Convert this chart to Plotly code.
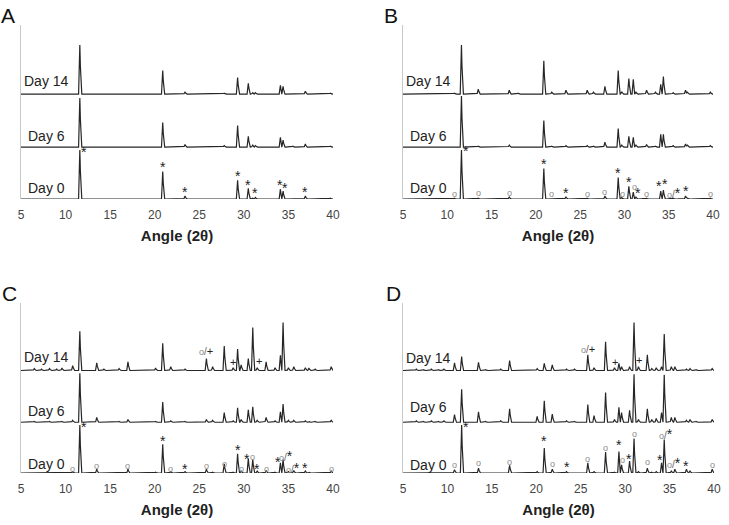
import numpy as np
import plotly.graph_objects as go

# ---------------- data ----------------
days = ["Day 0", "Day 6", "Day 14"]
day_offsets = [0, 106, 214]
x_ticks = [5, 10, 15, 20, 25, 30, 35, 40]

# Panel A
A_angles = [11.6, 20.9, 23.4, 27.8, 29.3, 30.5, 31.0, 31.3, 34.1, 34.4, 35.5, 36.9, 39.7]
A_day0 = [100, 56, 6, 1, 38, 22, 2, 3, 20, 16, 1, 6, 2]
A_day6 = [100, 50, 5, 3, 44, 22, 4, 3, 20, 14, 2, 6, 2]
A_day14 = [100, 48, 4, 2, 34, 22, 3, 3, 18, 16, 1, 6, 2]

# Panel B
B_angles = [10.8, 11.6, 13.5, 17.0, 18.0, 20.9, 21.8, 23.4, 25.8, 26.5, 27.8, 29.3, 29.7,
            30.5, 31.0, 31.3, 32.5, 33.5, 34.1, 34.4, 35.5, 36.9, 37.1, 39.7]
B_day0 = [2, 100, 2, 4, 1, 62, 1, 4, 2, 1, 6, 44, 3, 26, 14, 4, 2, 1, 16, 18, 2, 6, 2, 2]
B_day6 = [1, 104, 2, 4, 1, 54, 2, 3, 3, 2, 10, 38, 4, 22, 20, 4, 5, 2, 26, 26, 3, 6, 4, 3]
B_day14 = [2, 100, 10, 8, 2, 68, 4, 8, 8, 4, 16, 48, 5, 32, 30, 4, 8, 4, 20, 36, 3, 8, 4, 4]

# Panel C
C_angles = [6.5, 7.3, 8.2, 9.0, 9.6, 10.8, 11.6, 13.5, 14.3, 16.0, 17.0, 20.1, 20.9, 21.8,
            23.4, 25.8, 26.5, 27.8, 28.8, 29.3, 29.7, 30.5, 31.0, 31.5, 32.5, 33.5, 34.1,
            34.4, 35.0, 35.6, 36.9, 37.3, 38.0, 39.8]
C_day0 = [1, 1, 1, 1, 1, 3, 100, 8, 1, 1, 8, 2, 60, 3, 3, 8, 2, 19, 2, 40, 4, 30, 28, 4,
          5, 2, 21, 28, 3, 5, 4, 2, 1, 4]
C_day6 = [2, 1, 2, 1, 2, 4, 102, 10, 1, 2, 6, 2, 42, 3, 2, 6, 4, 20, 3, 30, 6, 26, 32, 4,
          10, 3, 22, 38, 4, 4, 3, 2, 2, 4]
C_day14 = [4, 3, 4, 3, 5, 10, 82, 16, 3, 4, 18, 5, 57, 8, 3, 25, 8, 51, 6, 45, 12, 25, 90, 6,
           18, 6, 32, 100, 6, 8, 6, 5, 3, 8]

# Panel D
D_angles = [6.5, 7.3, 8.2, 9.0, 9.6, 10.8, 11.6, 13.5, 14.3, 16.0, 17.0, 20.1, 20.9, 21.8,
            23.4, 24.3, 25.8, 26.5, 27.8, 28.8, 29.3, 29.6, 30.5, 31.0, 31.5, 32.5, 33.0,
            33.5, 34.1, 34.4, 35.2, 35.6, 36.9, 37.3, 38.0, 39.8]
D_day0 = [1, 1, 1, 1, 1, 7, 100, 10, 1, 1, 16, 3, 52, 8, 3, 1, 21, 3, 44, 2, 45, 17, 25, 72,
          3, 10, 2, 3, 21, 70, 4, 8, 8, 4, 1, 8]
D_day6 = [3, 2, 3, 2, 3, 16, 69, 22, 2, 3, 28, 12, 45, 17, 3, 2, 37, 14, 62, 6, 31, 20, 25, 100,
          6, 28, 6, 8, 20, 99, 10, 10, 4, 6, 2, 6]
D_day14 = [3, 2, 3, 2, 3, 16, 29, 17, 2, 3, 21, 4, 15, 12, 3, 3, 33, 6, 60, 6, 15, 8, 8, 100,
           8, 33, 4, 6, 8, 76, 8, 8, 3, 4, 2, 4]

# Peak markers: (angle, height above Day 0 baseline, symbol)
A_marks = [(12.1, 96, "*"), (20.9, 65, "*"), (23.4, 14, "*"), (29.3, 47, "*"), (30.5, 29, "*"),
           (31.3, 12, "*"), (34.0, 29, "*"), (34.6, 22, "*"), (36.9, 14, "*")]
B_marks = [(10.8, 10, "o"), (12.1, 98, "*"), (13.5, 12, "o"), (17.0, 12, "o"), (20.9, 71, "*"),
           (21.8, 10, "o"), (23.4, 12, "*"), (25.8, 10, "o"), (27.8, 14, "o"), (29.3, 53, "*"),
           (29.8, 10, "o"), (30.5, 35, "*"), (31.15, 24, "o"), (31.5, 12, "*"), (32.5, 10, "o"),
           (33.9, 27, "*"), (34.6, 30, "*"), (35.6, 12, "o/*"), (36.9, 16, "*"), (39.7, 10, "o")]
C_marks = [(10.8, 9, "o"), (12.1, 96, "*"), (13.5, 14, "o"), (17.0, 14, "o"), (20.9, 67, "*"),
           (21.8, 9, "o"), (23.4, 9, "*"), (25.8, 15, "o"), (27.8, 19, "o"), (29.3, 47, "*"),
           (29.7, 9, "o"), (30.4, 30, "*"), (31.0, 33, "o"), (31.5, 8, "*"), (32.5, 9, "o"),
           (33.8, 24, "*"), (34.7, 35, "o/*"), (35.5, 10, "o/*"), (36.9, 10, "*"), (39.8, 9, "o"),
           (25.8, 254, "o/+"), (28.8, 231, "+"), (31.7, 234, "+")]
D_marks = [(10.8, 17, "o"), (12.1, 96, "*"), (13.5, 21, "o"), (17.0, 24, "o"), (20.9, 66, "*"),
           (21.8, 19, "o"), (23.4, 12, "*"), (25.8, 30, "o"), (27.8, 52, "o"), (29.3, 58, "*"),
           (29.7, 28, "o"), (30.4, 30, "*"), (31.0, 82, "o"), (32.5, 24, "o"), (33.9, 28, "*"),
           (34.6, 82, "o/*"), (35.5, 21, "o/*"), (36.9, 15, "*"), (39.8, 16, "o"),
           (25.8, 259, "o/+"), (28.9, 231, "+"), (31.6, 235, "+")]

# Day label heights above each baseline
A_label_y = [22, 22, 26]
B_label_y = [22, 22, 26]
C_label_y = [19, 24, 29]
D_label_y = [17, 31, 26]

panel_letters = ["A", "B", "C", "D"]

# ---------------- figure ----------------
W, H = 729, 525
FONT = "Arial, Liberation Sans, sans-serif"
LINE = "#262626"

panels = [
    (A_angles, [A_day0, A_day6, A_day14], A_marks, A_label_y, (21, 333), (25, 199)),
    (B_angles, [B_day0, B_day6, B_day14], B_marks, B_label_y, (403, 713), (25, 199)),
    (C_angles, [C_day0, C_day6, C_day14], C_marks, C_label_y, (21, 333), (303, 473)),
    (D_angles, [D_day0, D_day6, D_day14], D_marks, D_label_y, (403, 714), (303, 473)),
]
letter_pos = [(8, 16), (391, 16), (9, 293), (393, 293)]

x_grid = np.round(np.arange(5.0, 40.0001, 0.02), 3)
HALF_W = 0.14


def profile(angles, heights):
    y = np.zeros_like(x_grid)
    for p, h in zip(angles, heights):
        y += h * np.clip(1 - np.abs(x_grid - p) / HALF_W, 0, None)
    return y


def fmt(sym):
    parts = []
    for ch in sym:
        if ch == "o":
            parts.append("<span style='color:#8a8a8a;font-size:9px'>o</span>")
        elif ch == "*":
            parts.append("<span style='font-size:14px'>*</span>")
        elif ch == "+":
            parts.append("<span style='font-size:11px'>+</span>")
        else:
            parts.append("<span style='color:#666;font-size:10px'>" + ch + "</span>")
    return "".join(parts)


fig = go.Figure()
annotations = []
layout = {}
for i, (angles, series, marks, label_y, (px0, px1), (py0, py1)) in enumerate(panels):
    n = "" if i == 0 else str(i + 1)
    xa, ya = "x" + n, "y" + n
    for d, (heights, off) in enumerate(zip(series, day_offsets)):
        fig.add_trace(go.Scatter(x=x_grid, y=profile(angles, heights) + off, mode="lines",
                                 line=dict(color=LINE, width=1.2), xaxis=xa, yaxis=ya,
                                 showlegend=False, hoverinfo="skip"))
        annotations.append(dict(x=7.9, y=off + label_y[d], xref=xa, yref=ya, text=days[d],
                                showarrow=False, font=dict(family=FONT, size=14, color="#222"),
                                xanchor="center", yanchor="middle"))
    for (mx, my, sym) in marks:
        annotations.append(dict(x=mx, y=my, xref=xa, yref=ya, text=fmt(sym), showarrow=False,
                                font=dict(family=FONT, size=11, color="#222"),
                                xanchor="center", yanchor="middle"))
    layout["xaxis" + n] = dict(domain=[px0 / W, px1 / W], range=[5, 40], anchor=ya,
                               tickvals=x_ticks, ticks="", showgrid=False, zeroline=False,
                               showline=False, automargin=False, ticklabelstandoff=7,
                               tickfont=dict(family=FONT, size=12, color="#444"),
                               title=dict(text="<b>Angle (2θ)</b>", standoff=9,
                                          font=dict(family=FONT, size=15, color="#222")))
    layout["yaxis" + n] = dict(domain=[1 - py1 / H, 1 - py0 / H], range=[0, 355], anchor=xa,
                               showticklabels=False, ticks="", showgrid=False,
                               zeroline=False, showline=True, linecolor="#c8c8c8",
                               linewidth=1, automargin=False)
    lx, ly = letter_pos[i]
    annotations.append(dict(x=lx / W, y=1 - ly / H, xref="paper", yref="paper",
                            text=panel_letters[i], showarrow=False,
                            font=dict(family=FONT, size=21, color="#111"),
                            xanchor="center", yanchor="middle"))

fig.update_layout(width=W, height=H, margin=dict(l=0, r=0, t=0, b=0),
                  paper_bgcolor="white", plot_bgcolor="white",
                  annotations=annotations, **layout)

fig.write_html("out.html", config={"displayModeBar": False},
               post_script="document.body.style.margin='0';document.body.style.padding='0';")
